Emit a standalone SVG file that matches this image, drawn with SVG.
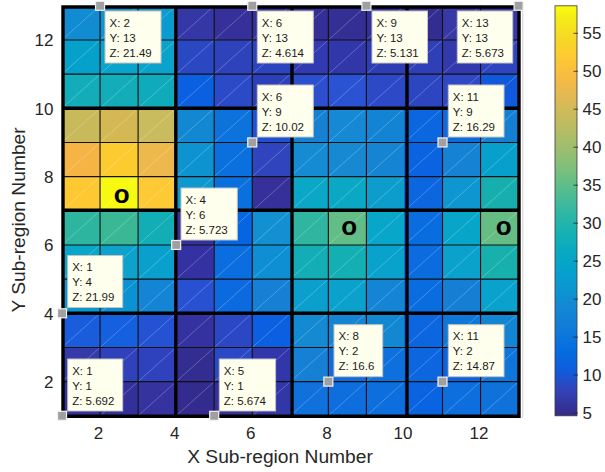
<svg xmlns="http://www.w3.org/2000/svg" width="605" height="472" viewBox="0 0 605 472">
<style>
text{font-family:"Liberation Sans",Arial,Helvetica,sans-serif}
.tick{font-size:17px;fill:#262626}
.ytick{font-size:17px;fill:#262626;text-anchor:end}
.xtick{font-size:17px;fill:#262626;text-anchor:middle}
.lab{font-size:19.2px;fill:#262626;text-anchor:middle}
.tipbox{fill:#ffffee;stroke:#c4c4c4;stroke-width:1}
.tiptext{font-size:11.5px;fill:#1a1a1a}
.mk{fill:#a0a0a0;stroke:#f2f2f2;stroke-width:1.2}
.diag{fill:none;stroke:#ffffff;stroke-opacity:0.35;stroke-width:0.7;vector-effect:non-scaling-stroke}
.thin{fill:none;stroke:#111111;stroke-width:1.1;vector-effect:non-scaling-stroke}
.thick{fill:none;stroke:#000000;stroke-width:3.4}
.omark{font-size:26px;font-weight:bold;fill:#000000;text-anchor:middle}
.cbt{stroke:#262626;stroke-width:0.8}
</style>
<defs>
<linearGradient id="parula" x1="0" y1="1" x2="0" y2="0">
<stop offset="0" stop-color="#352a87"/>
<stop offset="0.063" stop-color="#3243b9"/>
<stop offset="0.111" stop-color="#0f5cdd"/>
<stop offset="0.159" stop-color="#046de0"/>
<stop offset="0.206" stop-color="#1079da"/>
<stop offset="0.254" stop-color="#1485d4"/>
<stop offset="0.302" stop-color="#0c93d2"/>
<stop offset="0.349" stop-color="#06a0cd"/>
<stop offset="0.397" stop-color="#07a9c2"/>
<stop offset="0.444" stop-color="#15b1b4"/>
<stop offset="0.492" stop-color="#2eb7a4"/>
<stop offset="0.540" stop-color="#4dbc92"/>
<stop offset="0.587" stop-color="#71bf80"/>
<stop offset="0.635" stop-color="#92bf73"/>
<stop offset="0.683" stop-color="#aebd67"/>
<stop offset="0.730" stop-color="#c8bb5d"/>
<stop offset="0.778" stop-color="#e1b952"/>
<stop offset="0.825" stop-color="#f8ba44"/>
<stop offset="0.873" stop-color="#fec932"/>
<stop offset="0.921" stop-color="#f7d826"/>
<stop offset="0.968" stop-color="#f5eb18"/>
<stop offset="1" stop-color="#f9fb0e"/>
</linearGradient>
</defs>
<rect width="605" height="472" fill="#ffffff"/>

<g id="surface" transform="matrix(38.05 0 0 -34.17 62 415.8)" shape-rendering="crispEdges">
<!-- row 12 -->
<rect x="0" y="11" width="1" height="1" fill="#118bd1"/>
<rect x="1" y="11" width="1" height="1" fill="#0e94d0"/>
<rect x="2" y="11" width="1" height="1" fill="#0a9bd0"/>
<rect x="3" y="11" width="1" height="1" fill="#3438a6"/>
<rect x="4" y="11" width="1" height="1" fill="#35309a"/>
<rect x="5" y="11" width="1" height="1" fill="#36309a"/>
<rect x="6" y="11" width="1" height="1" fill="#332f96"/>
<rect x="7" y="11" width="1" height="1" fill="#332f94"/>
<rect x="8" y="11" width="1" height="1" fill="#33309a"/>
<rect x="9" y="11" width="1" height="1" fill="#332d90"/>
<rect x="10" y="11" width="1" height="1" fill="#3838a6"/>
<rect x="11" y="11" width="1" height="1" fill="#3838a4"/>
<!-- row 11 -->
<rect x="0" y="10" width="1" height="1" fill="#06a1ca"/>
<rect x="1" y="10" width="1" height="1" fill="#0aa3cb"/>
<rect x="2" y="10" width="1" height="1" fill="#0aa3cc"/>
<rect x="3" y="10" width="1" height="1" fill="#2b48c3"/>
<rect x="4" y="10" width="1" height="1" fill="#2e43bb"/>
<rect x="5" y="10" width="1" height="1" fill="#2d44bf"/>
<rect x="6" y="10" width="1" height="1" fill="#313ab0"/>
<rect x="7" y="10" width="1" height="1" fill="#3137a8"/>
<rect x="8" y="10" width="1" height="1" fill="#2f3db5"/>
<rect x="9" y="10" width="1" height="1" fill="#2f3fb7"/>
<rect x="10" y="10" width="1" height="1" fill="#3139ad"/>
<rect x="11" y="10" width="1" height="1" fill="#2f45c0"/>
<!-- row 10 -->
<rect x="0" y="9" width="1" height="1" fill="#12adb9"/>
<rect x="1" y="9" width="1" height="1" fill="#12adb8"/>
<rect x="2" y="9" width="1" height="1" fill="#10abbb"/>
<rect x="3" y="9" width="1" height="1" fill="#0a60e0"/>
<rect x="4" y="9" width="1" height="1" fill="#2b4ac8"/>
<rect x="5" y="9" width="1" height="1" fill="#2d3fb9"/>
<rect x="6" y="9" width="1" height="1" fill="#2b4fcf"/>
<rect x="7" y="9" width="1" height="1" fill="#2a53d3"/>
<rect x="8" y="9" width="1" height="1" fill="#2c4ac8"/>
<rect x="9" y="9" width="1" height="1" fill="#2c46c2"/>
<rect x="10" y="9" width="1" height="1" fill="#2f48c6"/>
<rect x="11" y="9" width="1" height="1" fill="#1059dd"/>
<!-- row 9 -->
<rect x="0" y="8" width="1" height="1" fill="#c8b95b"/>
<rect x="1" y="8" width="1" height="1" fill="#d4b853"/>
<rect x="2" y="8" width="1" height="1" fill="#c9bc5e"/>
<rect x="3" y="8" width="1" height="1" fill="#1388d2"/>
<rect x="4" y="8" width="1" height="1" fill="#0c72dc"/>
<rect x="5" y="8" width="1" height="1" fill="#1f52d3"/>
<rect x="6" y="8" width="1" height="1" fill="#1681d3"/>
<rect x="7" y="8" width="1" height="1" fill="#1689d4"/>
<rect x="8" y="8" width="1" height="1" fill="#1384d3"/>
<rect x="9" y="8" width="1" height="1" fill="#0b67df"/>
<rect x="10" y="8" width="1" height="1" fill="#0f6bdd"/>
<rect x="11" y="8" width="1" height="1" fill="#1480d4"/>
<!-- row 8 -->
<rect x="0" y="7" width="1" height="1" fill="#f5b443"/>
<rect x="1" y="7" width="1" height="1" fill="#fccb2f"/>
<rect x="2" y="7" width="1" height="1" fill="#eeb94c"/>
<rect x="3" y="7" width="1" height="1" fill="#0d94d0"/>
<rect x="4" y="7" width="1" height="1" fill="#0a70de"/>
<rect x="5" y="7" width="1" height="1" fill="#3045bd"/>
<rect x="6" y="7" width="1" height="1" fill="#148bd2"/>
<rect x="7" y="7" width="1" height="1" fill="#1689d2"/>
<rect x="8" y="7" width="1" height="1" fill="#1585d3"/>
<rect x="9" y="7" width="1" height="1" fill="#0a63e0"/>
<rect x="10" y="7" width="1" height="1" fill="#1682d3"/>
<rect x="11" y="7" width="1" height="1" fill="#07a0cd"/>
<!-- row 7 -->
<rect x="0" y="6" width="1" height="1" fill="#fdc832"/>
<rect x="1" y="6" width="1" height="1" fill="#f7fa10"/>
<rect x="2" y="6" width="1" height="1" fill="#fdc934"/>
<rect x="3" y="6" width="1" height="1" fill="#0d99cf"/>
<rect x="4" y="6" width="1" height="1" fill="#0a70de"/>
<rect x="5" y="6" width="1" height="1" fill="#35309a"/>
<rect x="6" y="6" width="1" height="1" fill="#0aa7c6"/>
<rect x="7" y="6" width="1" height="1" fill="#0ba8c5"/>
<rect x="8" y="6" width="1" height="1" fill="#0c9dcd"/>
<rect x="9" y="6" width="1" height="1" fill="#0b66df"/>
<rect x="10" y="6" width="1" height="1" fill="#0e96d0"/>
<rect x="11" y="6" width="1" height="1" fill="#17afae"/>
<!-- row 6 -->
<rect x="0" y="5" width="1" height="1" fill="#2db5a0"/>
<rect x="1" y="5" width="1" height="1" fill="#3ab895"/>
<rect x="2" y="5" width="1" height="1" fill="#12adb5"/>
<rect x="3" y="5" width="1" height="1" fill="#35309c"/>
<rect x="4" y="5" width="1" height="1" fill="#0666e2"/>
<rect x="5" y="5" width="1" height="1" fill="#1290d2"/>
<rect x="6" y="5" width="1" height="1" fill="#2fb5a0"/>
<rect x="7" y="5" width="1" height="1" fill="#62bd86"/>
<rect x="8" y="5" width="1" height="1" fill="#08a6c8"/>
<rect x="9" y="5" width="1" height="1" fill="#0a6ddf"/>
<rect x="10" y="5" width="1" height="1" fill="#07a6c9"/>
<rect x="11" y="5" width="1" height="1" fill="#65bd84"/>
<!-- row 5 -->
<rect x="0" y="4" width="1" height="1" fill="#08a6c8"/>
<rect x="1" y="4" width="1" height="1" fill="#0ca2cb"/>
<rect x="2" y="4" width="1" height="1" fill="#0aa0ce"/>
<rect x="3" y="4" width="1" height="1" fill="#3432a2"/>
<rect x="4" y="4" width="1" height="1" fill="#0b6ee0"/>
<rect x="5" y="4" width="1" height="1" fill="#0e8ed3"/>
<rect x="6" y="4" width="1" height="1" fill="#12adb5"/>
<rect x="7" y="4" width="1" height="1" fill="#13afb3"/>
<rect x="8" y="4" width="1" height="1" fill="#08a2cc"/>
<rect x="9" y="4" width="1" height="1" fill="#0a6cdf"/>
<rect x="10" y="4" width="1" height="1" fill="#0aa1cc"/>
<rect x="11" y="4" width="1" height="1" fill="#18b0ac"/>
<!-- row 4 -->
<rect x="0" y="3" width="1" height="1" fill="#0b98d0"/>
<rect x="1" y="3" width="1" height="1" fill="#0b92d2"/>
<rect x="2" y="3" width="1" height="1" fill="#1385d4"/>
<rect x="3" y="3" width="1" height="1" fill="#2851d2"/>
<rect x="4" y="3" width="1" height="1" fill="#0b6ae0"/>
<rect x="5" y="3" width="1" height="1" fill="#1580d5"/>
<rect x="6" y="3" width="1" height="1" fill="#0b9fce"/>
<rect x="7" y="3" width="1" height="1" fill="#0aa1cc"/>
<rect x="8" y="3" width="1" height="1" fill="#1484d4"/>
<rect x="9" y="3" width="1" height="1" fill="#0a6ddf"/>
<rect x="10" y="3" width="1" height="1" fill="#147fd5"/>
<rect x="11" y="3" width="1" height="1" fill="#08a2cc"/>
<!-- row 3 -->
<rect x="0" y="2" width="1" height="1" fill="#1a5ddc"/>
<rect x="1" y="2" width="1" height="1" fill="#1560de"/>
<rect x="2" y="2" width="1" height="1" fill="#2352d3"/>
<rect x="3" y="2" width="1" height="1" fill="#3332a0"/>
<rect x="4" y="2" width="1" height="1" fill="#2c47c4"/>
<rect x="5" y="2" width="1" height="1" fill="#0a60e1"/>
<rect x="6" y="2" width="1" height="1" fill="#148ad2"/>
<rect x="7" y="2" width="1" height="1" fill="#1585d3"/>
<rect x="8" y="2" width="1" height="1" fill="#1388d2"/>
<rect x="9" y="2" width="1" height="1" fill="#0b66e0"/>
<rect x="10" y="2" width="1" height="1" fill="#0e77d8"/>
<rect x="11" y="2" width="1" height="1" fill="#1385d3"/>
<!-- row 2 -->
<rect x="0" y="1" width="1" height="1" fill="#343aa8"/>
<rect x="1" y="1" width="1" height="1" fill="#2f41bb"/>
<rect x="2" y="1" width="1" height="1" fill="#2e42bd"/>
<rect x="3" y="1" width="1" height="1" fill="#332d92"/>
<rect x="4" y="1" width="1" height="1" fill="#2b48c5"/>
<rect x="5" y="1" width="1" height="1" fill="#3137aa"/>
<rect x="6" y="1" width="1" height="1" fill="#1680d5"/>
<rect x="7" y="1" width="1" height="1" fill="#106cdc"/>
<rect x="8" y="1" width="1" height="1" fill="#0d70dd"/>
<rect x="9" y="1" width="1" height="1" fill="#0b66e0"/>
<rect x="10" y="1" width="1" height="1" fill="#0d62df"/>
<rect x="11" y="1" width="1" height="1" fill="#0e75db"/>
<!-- row 1 -->
<rect x="0" y="0" width="1" height="1" fill="#36309c"/>
<rect x="1" y="0" width="1" height="1" fill="#33309c"/>
<rect x="2" y="0" width="1" height="1" fill="#3433a0"/>
<rect x="3" y="0" width="1" height="1" fill="#332b8d"/>
<rect x="4" y="0" width="1" height="1" fill="#35309a"/>
<rect x="5" y="0" width="1" height="1" fill="#3237a8"/>
<rect x="6" y="0" width="1" height="1" fill="#1070dc"/>
<rect x="7" y="0" width="1" height="1" fill="#0f6edd"/>
<rect x="8" y="0" width="1" height="1" fill="#0d6fdd"/>
<rect x="9" y="0" width="1" height="1" fill="#0a63e1"/>
<rect x="10" y="0" width="1" height="1" fill="#0d6fdd"/>
<rect x="11" y="0" width="1" height="1" fill="#0f72db"/>
</g>

<g id="connectors">
<g transform="matrix(38.05 0 0 -34.17 62 415.8)">
<path class="diag" d="M0 0L12 12M1 0L12 11M2 0L12 10M3 0L12 9M4 0L12 8M5 0L12 7M6 0L12 6M7 0L12 5M8 0L12 4M9 0L12 3M10 0L12 2M11 0L12 1M0 1L11 12M0 2L10 12M0 3L9 12M0 4L8 12M0 5L7 12M0 6L6 12M0 7L5 12M0 8L4 12M0 9L3 12M0 10L2 12M0 11L1 12"/>
<path class="thin" d="M1 0V12M2 0V12M4 0V12M5 0V12M7 0V12M8 0V12M10 0V12M11 0V12M0 1H12M0 2H12M0 4H12M0 5H12M0 7H12M0 8H12M0 10H12M0 11H12"/>
</g>
<path class="thick" d="M63 5.3V418M175.8 5.3V418M292 5.3V418M407 5.3V418M519 5.3V418M61.3 7H520.7M61.3 108.3H520.7M61.3 210.2H520.7M61.3 313.3H520.7M61.3 416.3H520.7"/>
<line x1="522.8" y1="4" x2="522.8" y2="418" stroke="#d2d2d2" stroke-width="1"/>
</g>

<g id="markers-o">
<text class="omark" x="121.7" y="202.9">o</text>
<text class="omark" x="349.2" y="234.7">o</text>
<text class="omark" x="503.7" y="234.8">o</text>
</g>

<g id="axes-labels">
<text class="ytick" x="53.5" y="46.2">12</text>
<text class="ytick" x="53.5" y="114.6">10</text>
<text class="ytick" x="53.5" y="182.9">8</text>
<text class="ytick" x="53.5" y="251.3">6</text>
<text class="ytick" x="53.5" y="319.6">4</text>
<text class="ytick" x="53.5" y="387.9">2</text>
<text class="xtick" x="98.6" y="439.3">2</text>
<text class="xtick" x="174.7" y="439.3">4</text>
<text class="xtick" x="250.8" y="439.3">6</text>
<text class="xtick" x="326.9" y="439.3">8</text>
<text class="xtick" x="403" y="439.3">10</text>
<text class="xtick" x="479" y="439.3">12</text>
<text class="lab" x="280" y="463.3">X Sub-region Number</text>
<text class="lab" transform="translate(24.5 220) rotate(-90)">Y Sub-region Number</text>
</g>

<g id="colorbar">
<rect x="555" y="5.8" width="22" height="410" fill="url(#parula)" stroke="#3a3a3a" stroke-width="0.8"/>
<path class="cbt" d="M573.5 413H578M573.5 375H578M573.5 337.1H578M573.5 299.1H578M573.5 261.1H578M573.5 223.2H578M573.5 185.2H578M573.5 147.2H578M573.5 109.2H578M573.5 71.3H578M573.5 33.3H578"/>
<text class="tick" x="582.5" y="419">5</text>
<text class="tick" x="582.5" y="381">10</text>
<text class="tick" x="582.5" y="343.1">15</text>
<text class="tick" x="582.5" y="305.1">20</text>
<text class="tick" x="582.5" y="267.1">25</text>
<text class="tick" x="582.5" y="229.2">30</text>
<text class="tick" x="582.5" y="191.2">35</text>
<text class="tick" x="582.5" y="153.2">40</text>
<text class="tick" x="582.5" y="115.2">45</text>
<text class="tick" x="582.5" y="77.3">50</text>
<text class="tick" x="582.5" y="39.3">55</text>
</g>

<g id="tip-2-13">
<rect class="mk" x="95.55" y="1.26" width="9" height="9"/>
<rect class="tipbox" x="105" y="11" width="56" height="52"/>
<text class="tiptext"><tspan x="109.5" y="26.5">X: 2</tspan><tspan x="109.5" y="41.5">Y: 13</tspan><tspan x="109.5" y="56.5">Z: 21.49</tspan></text>
</g>
<g id="tip-6-13">
<rect class="mk" x="247.75" y="1.26" width="9" height="9"/>
<rect class="tipbox" x="257.3" y="11" width="56" height="52"/>
<text class="tiptext"><tspan x="261.8" y="26.5">X: 6</tspan><tspan x="261.8" y="41.5">Y: 13</tspan><tspan x="261.8" y="56.5">Z: 4.614</tspan></text>
</g>
<g id="tip-9-13">
<rect class="mk" x="361.9" y="1.26" width="9" height="9"/>
<rect class="tipbox" x="372" y="11" width="55.5" height="52"/>
<text class="tiptext"><tspan x="376.5" y="26.5">X: 9</tspan><tspan x="376.5" y="41.5">Y: 13</tspan><tspan x="376.5" y="56.5">Z: 5.131</tspan></text>
</g>
<g id="tip-13-13">
<rect class="mk" x="514.1" y="1.26" width="9" height="9"/>
<rect class="tipbox" x="457.3" y="11" width="55.4" height="52"/>
<text class="tiptext"><tspan x="461.8" y="26.5">X: 13</tspan><tspan x="461.8" y="41.5">Y: 13</tspan><tspan x="461.8" y="56.5">Z: 5.673</tspan></text>
</g>
<g id="tip-6-9">
<rect class="mk" x="247.75" y="137.94" width="9" height="9"/>
<rect class="tipbox" x="257.3" y="85" width="56" height="52"/>
<text class="tiptext"><tspan x="261.8" y="100.5">X: 6</tspan><tspan x="261.8" y="115.5">Y: 9</tspan><tspan x="261.8" y="130.5">Z: 10.02</tspan></text>
</g>
<g id="tip-11-9">
<rect class="mk" x="438" y="137.94" width="9" height="9"/>
<rect class="tipbox" x="448.3" y="85" width="55.7" height="52"/>
<text class="tiptext"><tspan x="452.8" y="100.5">X: 11</tspan><tspan x="452.8" y="115.5">Y: 9</tspan><tspan x="452.8" y="130.5">Z: 16.29</tspan></text>
</g>
<g id="tip-4-6">
<rect class="mk" x="171.65" y="240.45" width="9" height="9"/>
<rect class="tipbox" x="181" y="188" width="56.3" height="52"/>
<text class="tiptext"><tspan x="185.5" y="203.5">X: 4</tspan><tspan x="185.5" y="218.5">Y: 6</tspan><tspan x="185.5" y="233.5">Z: 5.723</tspan></text>
</g>
<g id="tip-1-4">
<rect class="mk" x="57.5" y="308.79" width="9" height="9"/>
<rect class="tipbox" x="67.7" y="255.5" width="55" height="52"/>
<text class="tiptext"><tspan x="72.2" y="271">X: 1</tspan><tspan x="72.2" y="286">Y: 4</tspan><tspan x="72.2" y="301">Z: 21.99</tspan></text>
</g>
<g id="tip-1-1">
<rect class="mk" x="57.5" y="411.3" width="9" height="9"/>
<rect class="tipbox" x="67.7" y="359" width="55" height="52"/>
<text class="tiptext"><tspan x="72.2" y="374.5">X: 1</tspan><tspan x="72.2" y="389.5">Y: 1</tspan><tspan x="72.2" y="404.5">Z: 5.692</tspan></text>
</g>
<g id="tip-5-1">
<rect class="mk" x="209.7" y="411.3" width="9" height="9"/>
<rect class="tipbox" x="219.3" y="359" width="56.3" height="52"/>
<text class="tiptext"><tspan x="223.8" y="374.5">X: 5</tspan><tspan x="223.8" y="389.5">Y: 1</tspan><tspan x="223.8" y="404.5">Z: 5.674</tspan></text>
</g>
<g id="tip-8-2">
<rect class="mk" x="323.85" y="377.13" width="9" height="9"/>
<rect class="tipbox" x="334" y="324.7" width="48.7" height="52"/>
<text class="tiptext"><tspan x="338.5" y="340.2">X: 8</tspan><tspan x="338.5" y="355.2">Y: 2</tspan><tspan x="338.5" y="370.2">Z: 16.6</tspan></text>
</g>
<g id="tip-11-2">
<rect class="mk" x="438" y="377.13" width="9" height="9"/>
<rect class="tipbox" x="448.3" y="324.7" width="55.7" height="52"/>
<text class="tiptext"><tspan x="452.8" y="340.2">X: 11</tspan><tspan x="452.8" y="355.2">Y: 2</tspan><tspan x="452.8" y="370.2">Z: 14.87</tspan></text>
</g>
</svg>
